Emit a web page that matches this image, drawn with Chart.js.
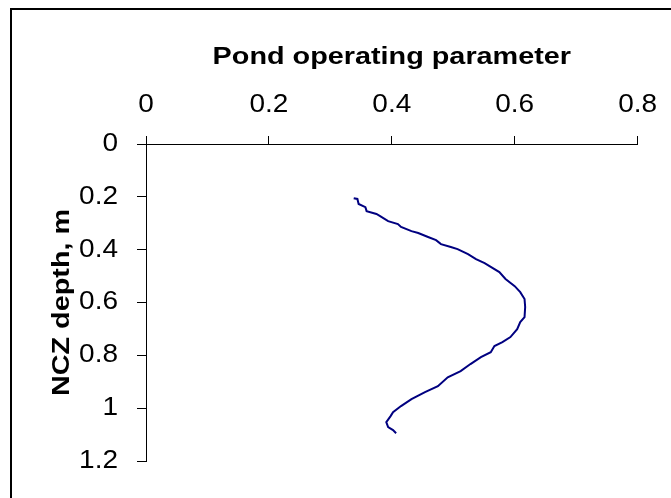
<!DOCTYPE html>
<html>
<head>
<meta charset="utf-8">
<script src="https://cdn.jsdelivr.net/npm/chart.js@4"></script>
<style>
  html, body { margin: 0; padding: 0; background: #fff; overflow: hidden; }
  #wrap { width: 671px; height: 498px; }
</style>
</head>
<body>
<div id="wrap"><canvas id="chart" width="671" height="498"></canvas></div>
<script>
// pond operating parameter vs. NCZ depth (m)
const PARAM = [
  0.338, 0.344, 0.346, 0.357, 0.359, 0.375, 0.381, 0.394, 0.410, 0.415,
  0.432, 0.443, 0.459, 0.472, 0.480, 0.496, 0.507, 0.524, 0.537, 0.551,
  0.575, 0.585, 0.600, 0.609, 0.616, 0.617, 0.616, 0.609, 0.604, 0.593,
  0.580, 0.567, 0.561, 0.545, 0.528, 0.512, 0.491, 0.475, 0.454, 0.432,
  0.415, 0.402, 0.398, 0.391, 0.394, 0.402, 0.407
];
const DEPTH = [
  0.205, 0.208, 0.227, 0.239, 0.254, 0.265, 0.273, 0.292, 0.303, 0.314,
  0.330, 0.337, 0.352, 0.364, 0.379, 0.390, 0.398, 0.417, 0.436, 0.451,
  0.485, 0.511, 0.538, 0.561, 0.587, 0.617, 0.655, 0.674, 0.701, 0.731,
  0.750, 0.765, 0.788, 0.807, 0.833, 0.860, 0.883, 0.917, 0.939, 0.966,
  0.992, 1.015, 1.030, 1.053, 1.072, 1.083, 1.095
];
const X_TICKS = [0, 0.2, 0.4, 0.6, 0.8];
const Y_TICKS = [0, 0.2, 0.4, 0.6, 0.8, 1, 1.2];

const FONT = 'Liberation Sans, Arial, Helvetica, sans-serif';

const canvas = document.getElementById('chart');
const ctx = canvas.getContext('2d');

// wide, Excel-style glyphs: stretch every label along its own baseline
const fillText = ctx.fillText.bind(ctx);
ctx.fillText = function (text, x, y, maxWidth) {
  const bold = /bold/.test(this.font);
  this.save();
  this.translate(x, y);
  this.scale(bold ? 1.2 : 1.12, 1);
  fillText(text, 0, 0);
  this.restore();
};

// white page with the outer chart frame
const frame = {
  id: 'frame',
  beforeDraw(chart) {
    const c = chart.ctx;
    c.save();
    c.fillStyle = '#fff';
    c.fillRect(0, 0, chart.width, chart.height);
    c.strokeStyle = '#000';
    c.lineWidth = 2;
    c.strokeRect(11, 9, 900, 900);
    c.restore();
  }
};

const axisGrid = {
  display: true,
  drawOnChartArea: false,
  drawTicks: true,
  color: '#000',
  lineWidth: 1
};

const fmt = v => String(+v.toFixed(2));

new Chart(ctx, {
  type: 'scatter',
  data: {
    datasets: [{
      data: PARAM.map((v, i) => ({ x: v, y: DEPTH[i] })),
      showLine: true,
      borderColor: '#000080',
      borderWidth: 2,
      pointRadius: 0,
      tension: 0
    }]
  },
  options: {
    responsive: false,
    animation: false,
    layout: { padding: { left: 0, top: 0, right: 30, bottom: 37 } },
    plugins: { legend: { display: false }, tooltip: { enabled: false } },
    scales: {
      x: {
        type: 'linear',
        position: 'top',
        min: 0,
        max: 0.8,
        afterBuildTicks: s => { s.ticks = X_TICKS.map(v => ({ value: v })); },
        afterFit: s => { s.height = 144; },
        grid: { ...axisGrid, tickLength: 8 },
        border: { display: true, color: '#000', width: 1 },
        ticks: { color: '#000', padding: 16, maxRotation: 0, callback: fmt, font: { family: FONT, size: 25 } },
        title: {
          display: true,
          text: 'Pond operating parameter',
          color: '#000',
          padding: { top: 43, bottom: 0 },
          font: { family: FONT, size: 24, weight: 'bold' }
        }
      },
      y: {
        type: 'linear',
        reverse: true,
        min: 0,
        max: 1.2,
        afterBuildTicks: s => { s.ticks = Y_TICKS.map(v => ({ value: v })); },
        afterFit: s => { s.width = 146; },
        grid: { ...axisGrid, tickLength: 9 },
        border: { display: true, color: '#000', width: 1 },
        ticks: { color: '#000', padding: 19, callback: fmt, font: { family: FONT, size: 25 } },
        title: {
          display: true,
          text: 'NCZ depth, m',
          color: '#000',
          padding: { top: 48, bottom: 0 },
          font: { family: FONT, size: 24, weight: 'bold' }
        }
      }
    }
  },
  plugins: [frame]
});
</script>
</body>
</html>
